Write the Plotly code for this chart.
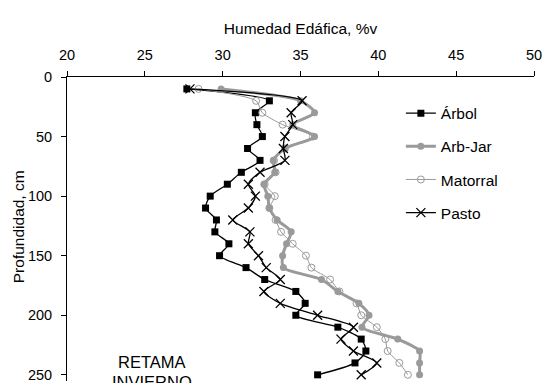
import plotly.graph_objects as go

depth = [10, 20, 30, 40, 50, 60, 70, 80, 90, 100, 110, 120, 130, 140, 150,
         160, 170, 180, 190, 200, 210, 220, 230, 240, 250]

arbol = [27.7, 33.0, 32.1, 32.2, 32.55, 31.6, 32.4, 31.2, 30.3, 29.2, 28.9, 29.6,
         29.5, 30.4, 29.8, 31.5, 32.7, 34.7, 35.3, 34.7, 37.4, 38.9, 39.2, 38.5, 36.1]
arb_jar = [29.9, 35.0, 35.9, 34.5, 35.9, 34.0, 33.25, 33.35, 32.65, 32.9, 33.0, 33.5,
           34.4, 34.1, 33.85, 33.9, 36.35, 37.4, 38.75, 39.4, 38.95, 41.25, 42.65, 42.65, 42.65]
matorral = [28.45, 32.15, 32.55, 33.85, 35.8, 34.0, 33.3, 33.4, 32.7, 33.35, 33.0, 33.4,
            33.75, 34.5, 35.35, 35.7, 36.9, 37.5, 38.6, 38.9, 39.9, 40.45, 40.6, 41.35, 41.9]
pasto = [27.9, 35.1, 34.4, 34.5, 34.0, 33.9, 34.0, 32.4, 31.65, 32.1, 31.65, 30.65,
         31.75, 31.65, 32.3, 32.8, 33.7, 32.65, 33.7, 36.1, 38.4, 37.6, 38.4, 39.9, 38.9]

x_ticks = [20, 25, 30, 35, 40, 45, 50]
y_ticks = [0, 50, 100, 150, 200, 250]

FONT = "Liberation Sans, Arial, sans-serif"
GRAY = "#9a9a9a"

fig = go.Figure()
fig.add_trace(go.Scatter(
    x=arbol, y=depth, name="Árbol", mode="lines+markers", legendgroup="a",
    line=dict(color="black", width=1.3, shape="spline", smoothing=0.7),
    marker=dict(symbol="square", size=7, color="black")))
fig.add_trace(go.Scatter(
    x=arb_jar, y=depth, name="Arb-Jar", mode="lines+markers", legendgroup="b",
    line=dict(color=GRAY, width=3, shape="spline", smoothing=0.7),
    marker=dict(symbol="circle", size=7, color=GRAY)))
fig.add_trace(go.Scatter(
    x=matorral, y=depth, name="Matorral", mode="lines+markers", legendgroup="c",
    line=dict(color=GRAY, width=1, shape="spline", smoothing=0.7),
    marker=dict(symbol="circle-open", size=7, color=GRAY, line=dict(width=1, color=GRAY))))
fig.add_trace(go.Scatter(
    x=pasto, y=depth, name="Pasto", mode="lines+markers", legendgroup="d",
    line=dict(color="black", width=1.3, shape="spline", smoothing=0.7),
    marker=dict(symbol="x-thin-open", size=9, color="black", line=dict(width=1.3, color="black"))))

L, R, T = 66.7, 545 - 534.3, 77.3
H = 383 - T
W = 545 - L - R

fig.update_layout(
    width=545, height=383,
    margin=dict(l=L, r=R, t=T, b=0, pad=0),
    paper_bgcolor="white", plot_bgcolor="white",
    font=dict(family=FONT, size=15, color="black"),
    showlegend=True,
    legend=dict(x=(401 - L) / W, xanchor="left",
                y=(383 - 97) / H, yanchor="top",
                font=dict(size=15.5), tracegroupgap=10,
                bgcolor="rgba(0,0,0,0)", traceorder="grouped"),
    xaxis=dict(side="top", range=[20, 50], tickvals=x_ticks, ticktext=[str(v) for v in x_ticks],
               showgrid=False, zeroline=False, showline=True, linecolor="black", linewidth=1,
               ticks="outside", ticklen=5, tickcolor="black", tickwidth=1,
               tickfont=dict(size=14.5), ticklabelstandoff=5,
               title=dict(text="Humedad Edáfica, %v", font=dict(size=15.5), standoff=8)),
    yaxis=dict(range=[(383 - T) / 1.198, 0], tickvals=y_ticks, ticktext=[str(v) for v in y_ticks],
               showgrid=False, zeroline=False, showline=True, linecolor="black", linewidth=1,
               ticks="outside", ticklen=5, tickcolor="black", tickwidth=1,
               tickfont=dict(size=14.5), ticklabelstandoff=6, ticklabeloverflow="allow"),
    annotations=[
        dict(text="Profundidad, cm", xref="paper", yref="paper",
             x=(19 - L) / W, y=(383 - 228) / H, textangle=-90,
             xanchor="center", yanchor="middle", showarrow=False, font=dict(size=15.5)),
        dict(text="RETAMA", xref="paper", yref="paper",
             x=(151.7 - L) / W, y=(383 - 364.3) / H,
             xanchor="center", yanchor="middle", showarrow=False, font=dict(size=16.5)),
        dict(text="INVIERNO", xref="paper", yref="paper",
             x=(151.7 - L) / W, y=(383 - 384.5) / H,
             xanchor="center", yanchor="middle", showarrow=False, font=dict(size=16.5)),
    ],
)

fig.write_html("out.html")
